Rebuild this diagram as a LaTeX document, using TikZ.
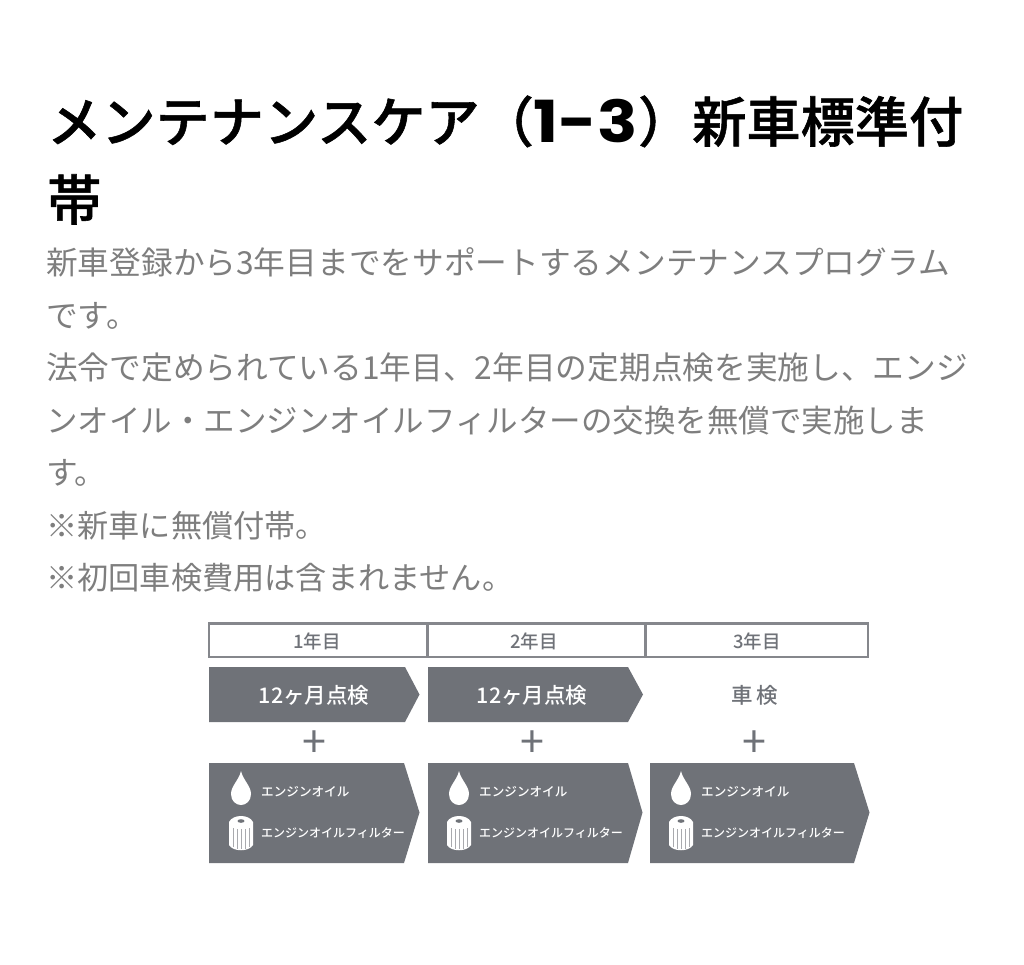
\documentclass[tikz,border=0pt]{standalone}
\usepackage{fontspec}
\setmainfont{Noto Sans CJK JP}
\newfontfamily\mediumcjk{Noto Sans CJK JP Medium}
\newfontfamily\titlecjk[FakeBold=1]{Noto Sans CJK JP Medium}
\newfontfamily\titledigits{Poppins}
\definecolor{panelgray}{HTML}{6F7278}
\definecolor{bodygray}{HTML}{7E7E7E}
\tikzset{
    titletext/.style={anchor=base west,inner sep=0pt,font=\fontsize{54.2}{54.2}\selectfont\titlecjk,text=black},
    bodytext/.style={anchor=base west,inner sep=0pt,font=\fontsize{31.7}{31.7}\selectfont,text=bodygray},
    yeartext/.style={inner sep=0pt,font=\fontsize{18.5}{18.5}\selectfont\mediumcjk,text=panelgray},
    checktext/.style={inner sep=0pt,font=\fontsize{21.5}{21.5}\selectfont\mediumcjk},
    plustext/.style={inner sep=0pt,font=\fontsize{43}{43}\selectfont,text=panelgray},
    itemtext/.style={anchor=west,inner sep=0pt,font=\fontsize{12}{12}\selectfont\mediumcjk,text=white},
    oiltext/.style={itemtext,font=\fontsize{12.6}{12.6}\selectfont\mediumcjk},
    pics/oildrop/.style={code={
        \fill[white] (0,-21) .. controls (-2,-12) and (-10,-6) .. (-10,2) .. controls (-10,9) and (-5,13) .. (0,13) .. controls (5,13) and (10,9) .. (10,2) .. controls (10,-6) and (2,-12) .. (0,-21) -- cycle;
    }},
    pics/oilfilter/.style={code={
        \fill[white] (-12,-11) -- (-12,12) .. controls (-8,19) and (8,19) .. (12,12) -- (12,-11) .. controls (8,-19) and (-8,-19) .. (-12,-11) -- cycle;
        \fill[panelgray] (0,-12) ellipse (3.5 and 1.8);
        \draw[panelgray!60,line width=0.4pt] (-8,-5) -- (-8,14) (-4,-4) -- (-4,16) (0,-4) -- (0,16) (4,-4) -- (4,16) (8,-5) -- (8,14);
    }}
}
\begin{document}
\begin{tikzpicture}[x=1pt,y=-1pt]
    \useasboundingbox (0,0) rectangle (1024,964);
    %% title
    \node[titletext] (titleone) at (47,142) {メンテナンスケア（\scalebox{1.15}[1]{\titledigits\bfseries\fontsize{58}{58}\selectfont 1-3}）新車標準付};
    \node[titletext] (titletwo) at (47,220) {帯};
    %% body
    \node[bodytext] (bodyone) at (46,274) {新車登録から3年目までをサポートするメンテナンスプログラム};
    \node[bodytext] (bodytwo) at (46,327) {です。};
    \node[bodytext] (bodythree) at (46,379) {法令で定められている1年目、2年目の定期点検を実施し、エンジ};
    \node[bodytext,font=\fontsize{31.5}{31.5}\selectfont] (bodyfour) at (46,432) {ンオイル・エンジンオイルフィルターの交換を無償で実施しま};
    \node[bodytext] (bodyfive) at (46,484) {す。};
    \node[bodytext,font=\fontsize{31.2}{31.2}\selectfont] (bodysix) at (46,537) {※新車に無償付帯。};
    \node[bodytext,font=\fontsize{31.2}{31.2}\selectfont] (bodyseven) at (46,589) {※初回車検費用は含まれません。};
    %% year table
    \draw[panelgray!85,line width=2.5pt] (209,623.5) rectangle (868,657);
    \draw[panelgray!85,line width=2.5pt] (427.5,623.5) -- (427.5,657);
    \draw[panelgray!85,line width=2.5pt] (645.5,623.5) -- (645.5,657);
    \node[yeartext] (yearone) at (317,641) {1年目};
    \node[yeartext] (yeartwo) at (534,641) {2年目};
    \node[yeartext] (yearthree) at (757,641) {3年目};
    %% check row
    \fill[panelgray] (209,667) -- (405,667) -- (419.5,694.5) -- (405,722) -- (209,722) -- cycle;
    \fill[panelgray] (428,667) -- (628,667) -- (643,694.5) -- (628,722) -- (428,722) -- cycle;
    \node[checktext,text=white] (checkone) at (314,695) {12ヶ月点検};
    \node[checktext,text=white] (checktwo) at (532,695) {12ヶ月点検};
    \node[checktext,text=panelgray] (checkthree) at (755,695) {車\,検};
    %% plus row
    \node[plustext] (plusone) at (314,744) {+};
    \node[plustext] (plustwo) at (532,744) {+};
    \node[plustext] (plusthree) at (754,744) {+};
    %% oil panels
    \fill[panelgray] (209,763) -- (404,763) -- (419.5,812.5) -- (404,863) -- (209,863) -- cycle;
    \fill[panelgray] (428,763) -- (628,763) -- (642.5,812.5) -- (628,863) -- (428,863) -- cycle;
    \fill[panelgray] (650,763) -- (854,763) -- (869.5,812.5) -- (854,863) -- (650,863) -- cycle;
    %% panel one
    \pic at (241,792) {oildrop};
    \pic at (241,833) {oilfilter};
    \node[oiltext] (oilone) at (261,792) {エンジンオイル};
    \node[itemtext] (filterone) at (261,833) {エンジンオイルフィルター};
    %% panel two
    \pic at (459,792) {oildrop};
    \pic at (459,833) {oilfilter};
    \node[oiltext] (oiltwo) at (479,792) {エンジンオイル};
    \node[itemtext] (filtertwo) at (479,833) {エンジンオイルフィルター};
    %% panel three
    \pic at (681,792) {oildrop};
    \pic at (681,833) {oilfilter};
    \node[oiltext] (oilthree) at (701,792) {エンジンオイル};
    \node[itemtext] (filterthree) at (701,833) {エンジンオイルフィルター};
\end{tikzpicture}
\end{document}
